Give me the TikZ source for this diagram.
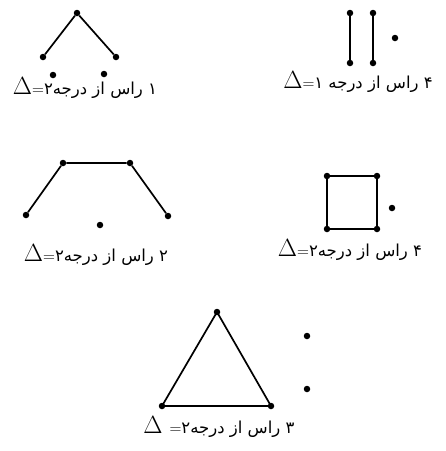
\documentclass[tikz,border=0pt]{standalone}
\usepackage{fontspec}
\newfontfamily\arabicfont[Script=Arabic]{DejaVu Sans}
\TeXXeTstate=1
\newcommand{\dlt}{\fontsize{23}{23}\selectfont$\Delta$}
\newcommand{\ptxt}{\fontsize{16.5}{18}\selectfont}
\begin{document}
\begin{tikzpicture}[x=1pt,y=-1pt,
  vtx/.style={circle,fill=black,inner sep=0pt,minimum size=6.5pt},
  edge/.style={line width=1.7pt},
  lbl/.style={inner sep=0pt}]
\useasboundingbox (0,0) rectangle (446,451);
% graph 1
\node[vtx] (a1) at (77,13) {};
\node[vtx] (a2) at (43,57) {};
\node[vtx] (a3) at (116,57) {};
\node[vtx] (a4) at (53,75) {};
\node[vtx] (a5) at (104,74) {};
\draw[edge] (a2) -- (a1) -- (a3);
\node[lbl] (l1) at (85,88) {\dlt\ptxt=\arabicfont\beginR ۱ راس از درجه۲\endR};
% graph 2
\node[vtx] (b1) at (350,13) {};
\node[vtx] (b2) at (350,63) {};
\node[vtx] (b3) at (373,13) {};
\node[vtx] (b4) at (373,63) {};
\node[vtx] (b5) at (395,38) {};
\draw[edge] (b1) -- (b2);
\draw[edge] (b3) -- (b4);
\node[lbl] (l2) at (358,82) {\dlt\ptxt=\arabicfont\beginR ۴ راس از درجه ۱\endR};
% graph 3
\node[vtx] (c1) at (26,215) {};
\node[vtx] (c2) at (63,163) {};
\node[vtx] (c3) at (130,163) {};
\node[vtx] (c4) at (168,216) {};
\node[vtx] (c5) at (100,225) {};
\draw[edge] (c1) -- (c2) -- (c3) -- (c4);
\node[lbl] (l3) at (96,255) {\dlt\ptxt=\arabicfont\beginR ۲ راس از درجه۲\endR};
% graph 4
\node[vtx] (d1) at (327,176) {};
\node[vtx] (d2) at (377,176) {};
\node[vtx] (d3) at (377,229) {};
\node[vtx] (d4) at (327,229) {};
\node[vtx] (d5) at (392,208) {};
\draw[edge] (d1.center) -- (d2.center) -- (d3.center) -- (d4.center) -- cycle;
\node[lbl] (l4) at (350,250) {\dlt\ptxt=\arabicfont\beginR ۴ راس از درجه۲\endR};
% graph 5
\node[vtx] (e1) at (217,312) {};
\node[vtx] (e2) at (162,406) {};
\node[vtx] (e3) at (271,406) {};
\node[vtx] (e4) at (307,336) {};
\node[vtx] (e5) at (307,389) {};
\draw[edge] (e1.center) -- (e2.center) -- (e3.center) -- cycle;
\node[lbl] (l5) at (219,427) {\dlt\ \ptxt=\arabicfont\beginR ۳ راس از درجه۲\endR};
\end{tikzpicture}
\end{document}
